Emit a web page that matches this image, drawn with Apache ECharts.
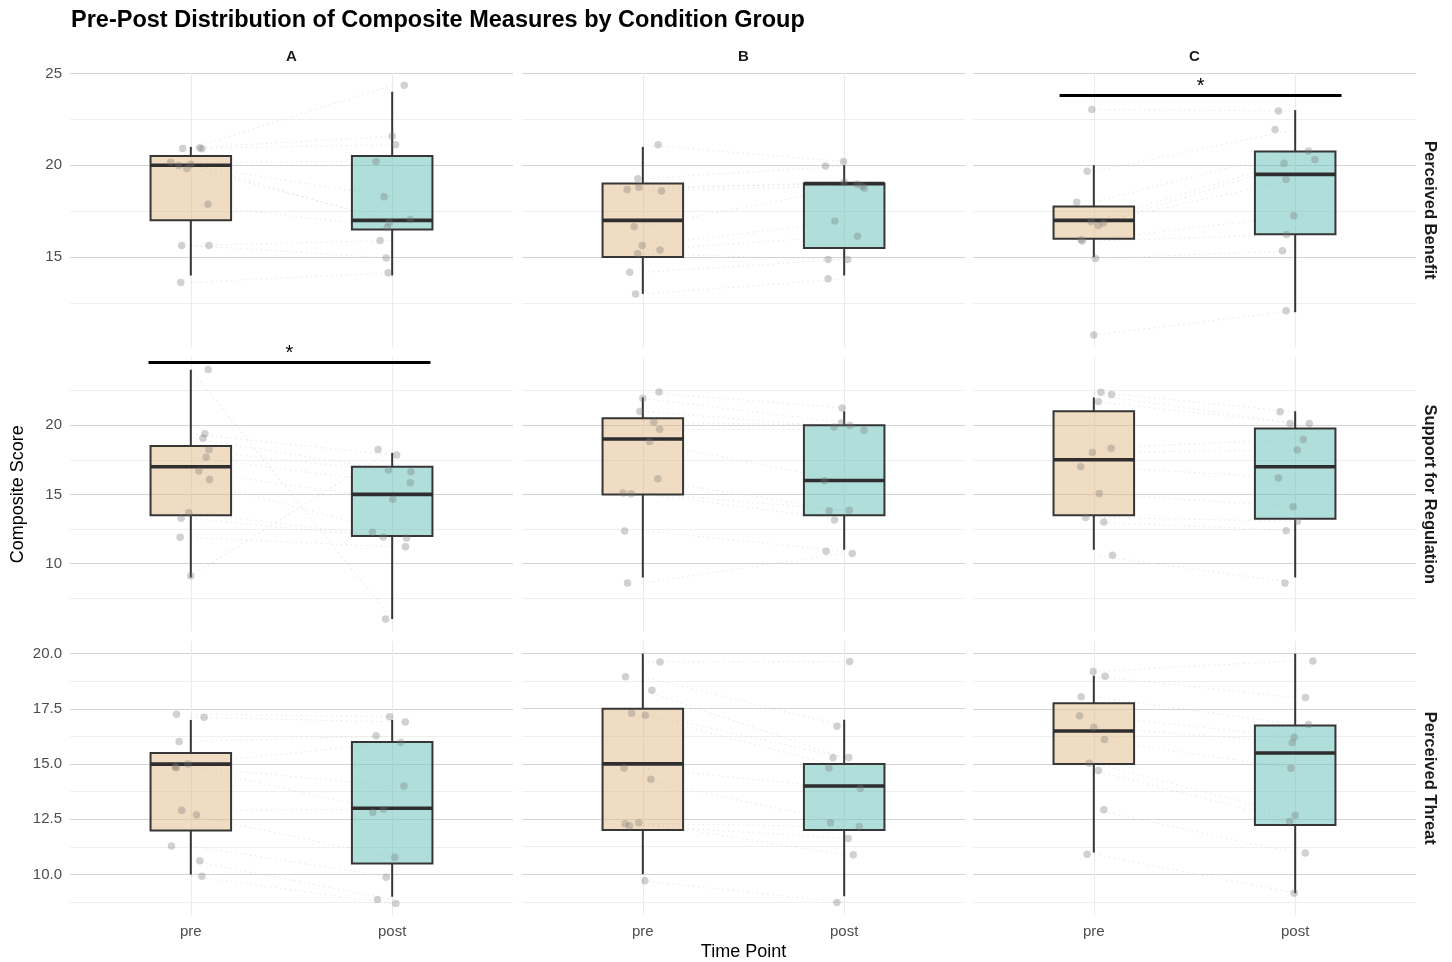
<!DOCTYPE html>
<html>
<head>
<meta charset="utf-8">
<script src="https://cdn.jsdelivr.net/npm/echarts@6/dist/echarts.min.js"></script>
<style>html,body{margin:0;padding:0;background:#fff}#chart{width:1452px;height:962px}</style>
</head>
<body>
<div id="chart"></div>
<script>
// ---------- DATA ----------
const conditions = ['A', 'B', 'C'];
const measures = ['Perceived Benefit', 'Support for Regulation', 'Perceived Threat'];
const timePoints = ['pre', 'post'];

// tick labels per measure row
const benefitTicks = [15, 20, 25];
const regulationTicks = [10, 15, 20];
const threatTicks = [10, 12.5, 15, 17.5, 20];
const benefitMinor = [12.5, 17.5, 22.5];
const regulationMinor = [7.5, 12.5, 17.5, 22.5];
const threatMinor = [8.75, 11.25, 13.75, 16.25, 18.75];

// box stats: [min, Q1, median, Q3, max]
const benefit_A_pre_box = [14, 17, 20, 20.5, 21];
const benefit_A_post_box = [14, 16.5, 17, 20.5, 24];
const benefit_B_pre_box = [13, 15, 17, 19, 21];
const benefit_B_post_box = [14, 15.5, 19, 19, 20];
const benefit_C_pre_box = [15, 16, 17, 17.75, 20];
const benefit_C_post_box = [12, 16.25, 19.5, 20.75, 23];
const regulation_A_pre_box = [9, 13.5, 17, 18.5, 24];
const regulation_A_post_box = [6, 12, 15, 17, 18];
const regulation_B_pre_box = [9, 15, 19, 20.5, 22];
const regulation_B_post_box = [11, 13.5, 16, 20, 21];
const regulation_C_pre_box = [11, 13.5, 17.5, 21, 22];
const regulation_C_post_box = [9, 13.25, 17, 19.75, 21];
const threat_A_pre_box = [10, 12, 15, 15.5, 17];
const threat_A_post_box = [9, 10.5, 13, 16, 17];
const threat_B_pre_box = [10, 12, 15, 17.5, 20];
const threat_B_post_box = [9, 12, 14, 15, 17];
const threat_C_pre_box = [11, 15, 16.5, 17.75, 19];
const threat_C_post_box = [9.16, 12.25, 15.5, 16.75, 20];

// individual (jittered) scores and horizontal jitter (in category units)
const benefit_A_pre = [20.91, 20.95, 20.90, 20.16, 19.98, 19.82, 20.05, 17.88, 15.63, 15.63, 13.62];
const benefit_A_pre_jit = [-0.04, 0.045, 0.055, -0.10, -0.06, -0.02, 0.0, 0.085, -0.045, 0.09, -0.05];
const benefit_A_post = [24.35, 21.58, 21.12, 20.20, 18.28, 17.05, 16.88, 16.61, 15.91, 14.95, 14.15];
const benefit_A_post_jit = [0.06, 0.0, 0.017, -0.08, -0.04, 0.09, -0.015, -0.025, -0.06, -0.03, -0.02];

const benefit_B_pre = [21.12, 19.26, 18.68, 18.80, 18.60, 16.65, 15.63, 15.38, 15.18, 14.17, 12.99];
const benefit_B_pre_jit = [0.076, -0.025, -0.078, -0.02, 0.093, -0.043, -0.003, 0.085, -0.025, -0.065, -0.036];
const benefit_B_post = [20.20, 19.96, 19.09, 18.97, 18.85, 18.75, 16.96, 16.14, 14.87, 14.87, 13.82];
const benefit_B_post_jit = [-0.003, -0.093, 0.0, 0.063, 0.09, 0.10, -0.046, 0.066, -0.08, 0.017, -0.08];

const benefit_C_pre = [23.04, 19.67, 17.99, 16.94, 16.72, 16.85, 15.95, 15.88, 14.93, 10.76];
const benefit_C_pre_jit = [-0.01, -0.033, -0.085, -0.013, 0.022, 0.048, -0.063, -0.057, 0.008, 0.0];
const benefit_C_post = [22.95, 21.94, 20.78, 20.31, 20.11, 19.22, 17.25, 16.23, 15.34, 12.08];
const benefit_C_post_jit = [-0.083, -0.10, 0.066, 0.098, -0.055, -0.046, -0.007, -0.043, -0.063, -0.045];

const regulation_A_pre = [24.02, 19.37, 19.06, 18.22, 17.69, 16.68, 16.08, 13.68, 13.27, 11.90, 9.11];
const regulation_A_pre_jit = [0.086, 0.07, 0.06, 0.09, 0.076, 0.04, 0.093, -0.01, -0.048, -0.053, 0.0];
const regulation_A_post = [6.01, 17.84, 16.76, 16.64, 15.84, 14.64, 12.26, 11.92, 11.85, 11.22, 18.25];
const regulation_A_post_jit = [-0.033, 0.022, -0.018, 0.093, 0.09, 0.003, -0.098, -0.045, 0.071, 0.066, -0.07];

const regulation_B_pre = [22.40, 21.95, 20.99, 20.22, 19.71, 18.82, 16.13, 15.10, 15.05, 12.36, 8.61];
const regulation_B_pre_jit = [0.08, 0.0, -0.015, 0.055, 0.083, 0.033, 0.075, -0.098, -0.058, -0.09, -0.076];
const regulation_B_post = [21.23, 20.17, 19.86, 19.98, 19.64, 15.98, 13.82, 13.85, 13.15, 10.89, 10.74];
const regulation_B_post_jit = [-0.01, -0.013, -0.05, 0.028, 0.098, -0.098, -0.075, 0.025, -0.048, -0.09, 0.04];

const regulation_C_pre = [22.38, 22.21, 21.71, 18.34, 18.03, 16.99, 15.07, 13.34, 13.00, 10.60];
const regulation_C_pre_jit = [0.035, 0.088, 0.023, 0.086, -0.007, -0.065, 0.027, -0.041, 0.05, 0.093];
const regulation_C_post = [20.96, 20.12, 20.12, 18.97, 18.20, 16.18, 14.11, 13.06, 12.38, 8.61];
const regulation_C_post_jit = [-0.075, -0.025, 0.07, 0.04, 0.01, -0.083, -0.01, 0.012, -0.045, -0.051];

const threat_A_pre = [17.26, 17.12, 16.02, 15.01, 14.88, 14.84, 12.91, 12.70, 11.30, 10.63, 9.93];
const threat_A_pre_jit = [-0.071, 0.066, -0.058, -0.015, -0.078, -0.072, -0.045, 0.028, -0.096, 0.045, 0.055];
const threat_A_post = [17.14, 16.91, 16.28, 15.99, 14.01, 12.82, 12.96, 10.79, 9.88, 8.87, 8.69];
const threat_A_post_jit = [-0.013, 0.065, -0.08, 0.043, 0.058, -0.096, -0.043, 0.013, -0.03, -0.073, 0.018];

const threat_B_pre = [19.62, 18.95, 18.34, 17.29, 17.21, 14.81, 14.30, 12.29, 12.20, 12.33, 9.70];
const threat_B_pre_jit = [0.085, -0.086, 0.045, -0.056, 0.012, -0.093, 0.04, -0.088, -0.066, -0.02, 0.01];
const threat_B_post = [19.64, 16.71, 15.28, 15.29, 14.81, 13.88, 12.33, 12.16, 11.62, 10.88, 8.72];
const threat_B_post_jit = [0.027, -0.036, -0.055, 0.023, -0.076, 0.08, -0.068, 0.075, 0.02, 0.045, -0.036];

const threat_C_pre = [19.19, 18.98, 18.05, 17.19, 16.67, 16.11, 15.04, 14.71, 12.94, 10.92];
const threat_C_pre_jit = [-0.003, 0.056, -0.063, -0.071, 0.0, 0.053, -0.023, 0.023, 0.05, -0.033];
const threat_C_post = [19.67, 18.01, 16.79, 16.22, 15.97, 14.81, 12.69, 12.40, 10.98, 9.16];
const threat_C_post_jit = [0.088, 0.051, 0.066, -0.005, -0.015, -0.021, 0.0, -0.028, 0.05, -0.005];

// significance brackets
const sigMeasure = ['Perceived Benefit', 'Support for Regulation'];
const sigCondition = ['C', 'A'];
const sigLevel = [23.82, 24.56];
const sigFrom = [0.83, 0.79];
const sigTo = [2.23, 2.19];
const sigLabel = ['*', '*'];

// ---------- BUILD ----------
const panelData = {
  'Perceived Benefit': {
    A: [benefit_A_pre, benefit_A_pre_jit, benefit_A_post, benefit_A_post_jit, benefit_A_pre_box, benefit_A_post_box],
    B: [benefit_B_pre, benefit_B_pre_jit, benefit_B_post, benefit_B_post_jit, benefit_B_pre_box, benefit_B_post_box],
    C: [benefit_C_pre, benefit_C_pre_jit, benefit_C_post, benefit_C_post_jit, benefit_C_pre_box, benefit_C_post_box]
  },
  'Support for Regulation': {
    A: [regulation_A_pre, regulation_A_pre_jit, regulation_A_post, regulation_A_post_jit, regulation_A_pre_box, regulation_A_post_box],
    B: [regulation_B_pre, regulation_B_pre_jit, regulation_B_post, regulation_B_post_jit, regulation_B_pre_box, regulation_B_post_box],
    C: [regulation_C_pre, regulation_C_pre_jit, regulation_C_post, regulation_C_post_jit, regulation_C_pre_box, regulation_C_post_box]
  },
  'Perceived Threat': {
    A: [threat_A_pre, threat_A_pre_jit, threat_A_post, threat_A_post_jit, threat_A_pre_box, threat_A_post_box],
    B: [threat_B_pre, threat_B_pre_jit, threat_B_post, threat_B_post_jit, threat_B_pre_box, threat_B_post_box],
    C: [threat_C_pre, threat_C_pre_jit, threat_C_post, threat_C_post_jit, threat_C_pre_box, threat_C_post_box]
  }
};
const rowTicks = [benefitTicks, regulationTicks, threatTicks];
const rowMinor = [benefitMinor, regulationMinor, threatMinor];

const FONT = '"Liberation Sans", Arial, Helvetica, sans-serif';
const colLeft = [70, 522, 973];
const colWidth = 443;
const rowTop = [73, 357, 641];
const rowHeight = 274.5;
const yMin = [10.08, 5.10, 8.15];
const yMax = [25.02, 24.92, 20.57];
const boxFill = ['rgba(225,185,133,0.5)', 'rgba(97,191,183,0.5)'];
const boxLine = '#363636';

const grids = [], xAxes = [], yAxes = [], series = [];
let gi = 0;
measures.forEach((m, r) => {
  conditions.forEach((c, ci) => {
    const d = panelData[m][c];
    grids.push({ left: colLeft[ci], top: rowTop[r], width: colWidth, height: rowHeight });
    xAxes.push({
      gridIndex: gi, type: 'value', min: 0.4, max: 2.6,
      axisLine: { show: false },
      axisTick: { show: false, customValues: [1, 2] },
      axisLabel: {
        show: r === 2, customValues: [1, 2],
        formatter: v => timePoints[Math.round(v) - 1] || '',
        color: '#4d4d4d', fontSize: 15, fontFamily: FONT, margin: 9
      },
      splitLine: { show: true, lineStyle: { color: '#ebebeb', width: 1.1 } },
      name: (r === 2 && ci === 1) ? 'Time Point' : '',
      nameLocation: 'middle', nameGap: 28,
      nameTextStyle: { fontSize: 18, color: '#000', fontFamily: FONT }
    });
    yAxes.push({
      gridIndex: gi, type: 'value', min: yMin[r], max: yMax[r],
      axisLine: { show: false },
      axisTick: { show: false, customValues: rowTicks[r] },
      axisLabel: {
        show: ci === 0, customValues: rowTicks[r],
        formatter: v => (r === 2 ? v.toFixed(1) : String(v)),
        color: '#4d4d4d', fontSize: 15, fontFamily: FONT, margin: 8
      },
      splitLine: { show: true, lineStyle: { color: '#d4d4d4', width: 1.1 } },
      name: (r === 1 && ci === 0) ? 'Composite Score' : '',
      nameLocation: 'middle', nameGap: 43,
      nameTextStyle: { fontSize: 18, color: '#000', fontFamily: FONT }
    });
    yAxes.push({
      gridIndex: gi, type: 'value', min: yMin[r], max: yMax[r], position: 'left',
      axisLine: { show: false },
      axisTick: { show: false, customValues: rowMinor[r] },
      axisLabel: { show: false },
      splitLine: { show: true, lineStyle: { color: '#efefef', width: 1 } }
    });
    const yi = 2 * gi;
    const [pre, preJ, post, postJ, preBox, postBox] = d;

    // paired dotted lines
    series.push({
      type: 'custom', xAxisIndex: gi, yAxisIndex: yi, silent: true, z: 2,
      data: pre.map((v, i) => [v, post[i]]),
      renderItem: (params, api) => {
        const a = api.coord([1, api.value(0)]);
        const b = api.coord([2, api.value(1)]);
        return { type: 'line', shape: { x1: a[0], y1: a[1], x2: b[0], y2: b[1] },
          style: { stroke: '#c8c8c8', lineWidth: 1.1, lineDash: [1.5, 3.5], opacity: 0.4 } };
      }
    });
    // boxes
    series.push({
      type: 'custom', xAxisIndex: gi, yAxisIndex: yi, silent: true, z: 3,
      data: [[1].concat(preBox), [2].concat(postBox)],
      renderItem: (params, api) => {
        const x = api.value(0);
        const mn = api.value(1), q1 = api.value(2), md = api.value(3), q3 = api.value(4), mx = api.value(5);
        const hw = 0.2;
        const tl = api.coord([x - hw, q3]), br = api.coord([x + hw, q1]);
        const cMax = api.coord([x, mx]), cQ3 = api.coord([x, q3]), cQ1 = api.coord([x, q1]), cMin = api.coord([x, mn]);
        const mL = api.coord([x - hw, md]), mR = api.coord([x + hw, md]);
        return { type: 'group', children: [
          { type: 'line', shape: { x1: cMax[0], y1: cMax[1], x2: cQ3[0], y2: cQ3[1] }, style: { stroke: boxLine, lineWidth: 2 } },
          { type: 'line', shape: { x1: cQ1[0], y1: cQ1[1], x2: cMin[0], y2: cMin[1] }, style: { stroke: boxLine, lineWidth: 2 } },
          { type: 'rect', shape: { x: tl[0], y: tl[1], width: br[0] - tl[0], height: br[1] - tl[1] },
            style: { fill: boxFill[params.dataIndex], stroke: boxLine, lineWidth: 2 } },
          { type: 'line', shape: { x1: mL[0], y1: mL[1], x2: mR[0], y2: mR[1] }, style: { stroke: '#2e2e2e', lineWidth: 3.6 } }
        ] };
      }
    });
    // points
    const pts = pre.map((v, i) => [1 + preJ[i], v]).concat(post.map((v, i) => [2 + postJ[i], v]));
    const sc = {
      type: 'scatter', xAxisIndex: gi, yAxisIndex: yi, silent: true, z: 4,
      data: pts, symbolSize: 7.5,
      itemStyle: { color: 'rgba(120,120,120,0.42)' }
    };
    const sIdx = sigMeasure.findIndex((sm, k) => sm === m && sigCondition[k] === c);
    if (sIdx >= 0) {
      sc.markLine = {
        silent: true, animation: false, symbol: ['none', 'none'],
        lineStyle: { color: '#000', width: 3, type: 'solid' },
        label: { show: true, position: 'insideMiddleTop', formatter: sigLabel[sIdx], color: '#000',
          fontSize: 20, fontFamily: FONT, distance: -1 },
        emphasis: { disabled: true },
        data: [[{ coord: [sigFrom[sIdx], sigLevel[sIdx]] }, { coord: [sigTo[sIdx], sigLevel[sIdx]] }]]
      };
    }
    series.push(sc);
    gi++;
  });
});

const graphics = [];
conditions.forEach((c, ci) => {
  graphics.push({ type: 'text', x: colLeft[ci] + colWidth / 2, y: 57,
    style: { text: c, font: 'bold 15px ' + FONT, fill: '#1a1a1a', align: 'center', verticalAlign: 'middle', textAlign: 'center', textVerticalAlign: 'middle' } });
});
measures.forEach((m, r) => {
  graphics.push({ type: 'text', x: 1430, y: rowTop[r] + rowHeight / 2, rotation: -Math.PI / 2,
    style: { text: m, font: 'bold 16.5px ' + FONT, fill: '#1a1a1a', align: 'center', verticalAlign: 'middle', textAlign: 'center', textVerticalAlign: 'middle' } });
});

const chart = echarts.init(document.getElementById('chart'), null, { renderer: 'canvas' });
chart.setOption({
  animation: false,
  backgroundColor: '#ffffff',
  title: {
    text: 'Pre-Post Distribution of Composite Measures by Condition Group',
    left: 66, top: 4,
    textStyle: { fontSize: 23.5, fontWeight: 'bold', color: '#000', fontFamily: FONT }
  },
  grid: grids,
  xAxis: xAxes,
  yAxis: yAxes,
  series: series,
  graphic: graphics
});
</script>
</body>
</html>
